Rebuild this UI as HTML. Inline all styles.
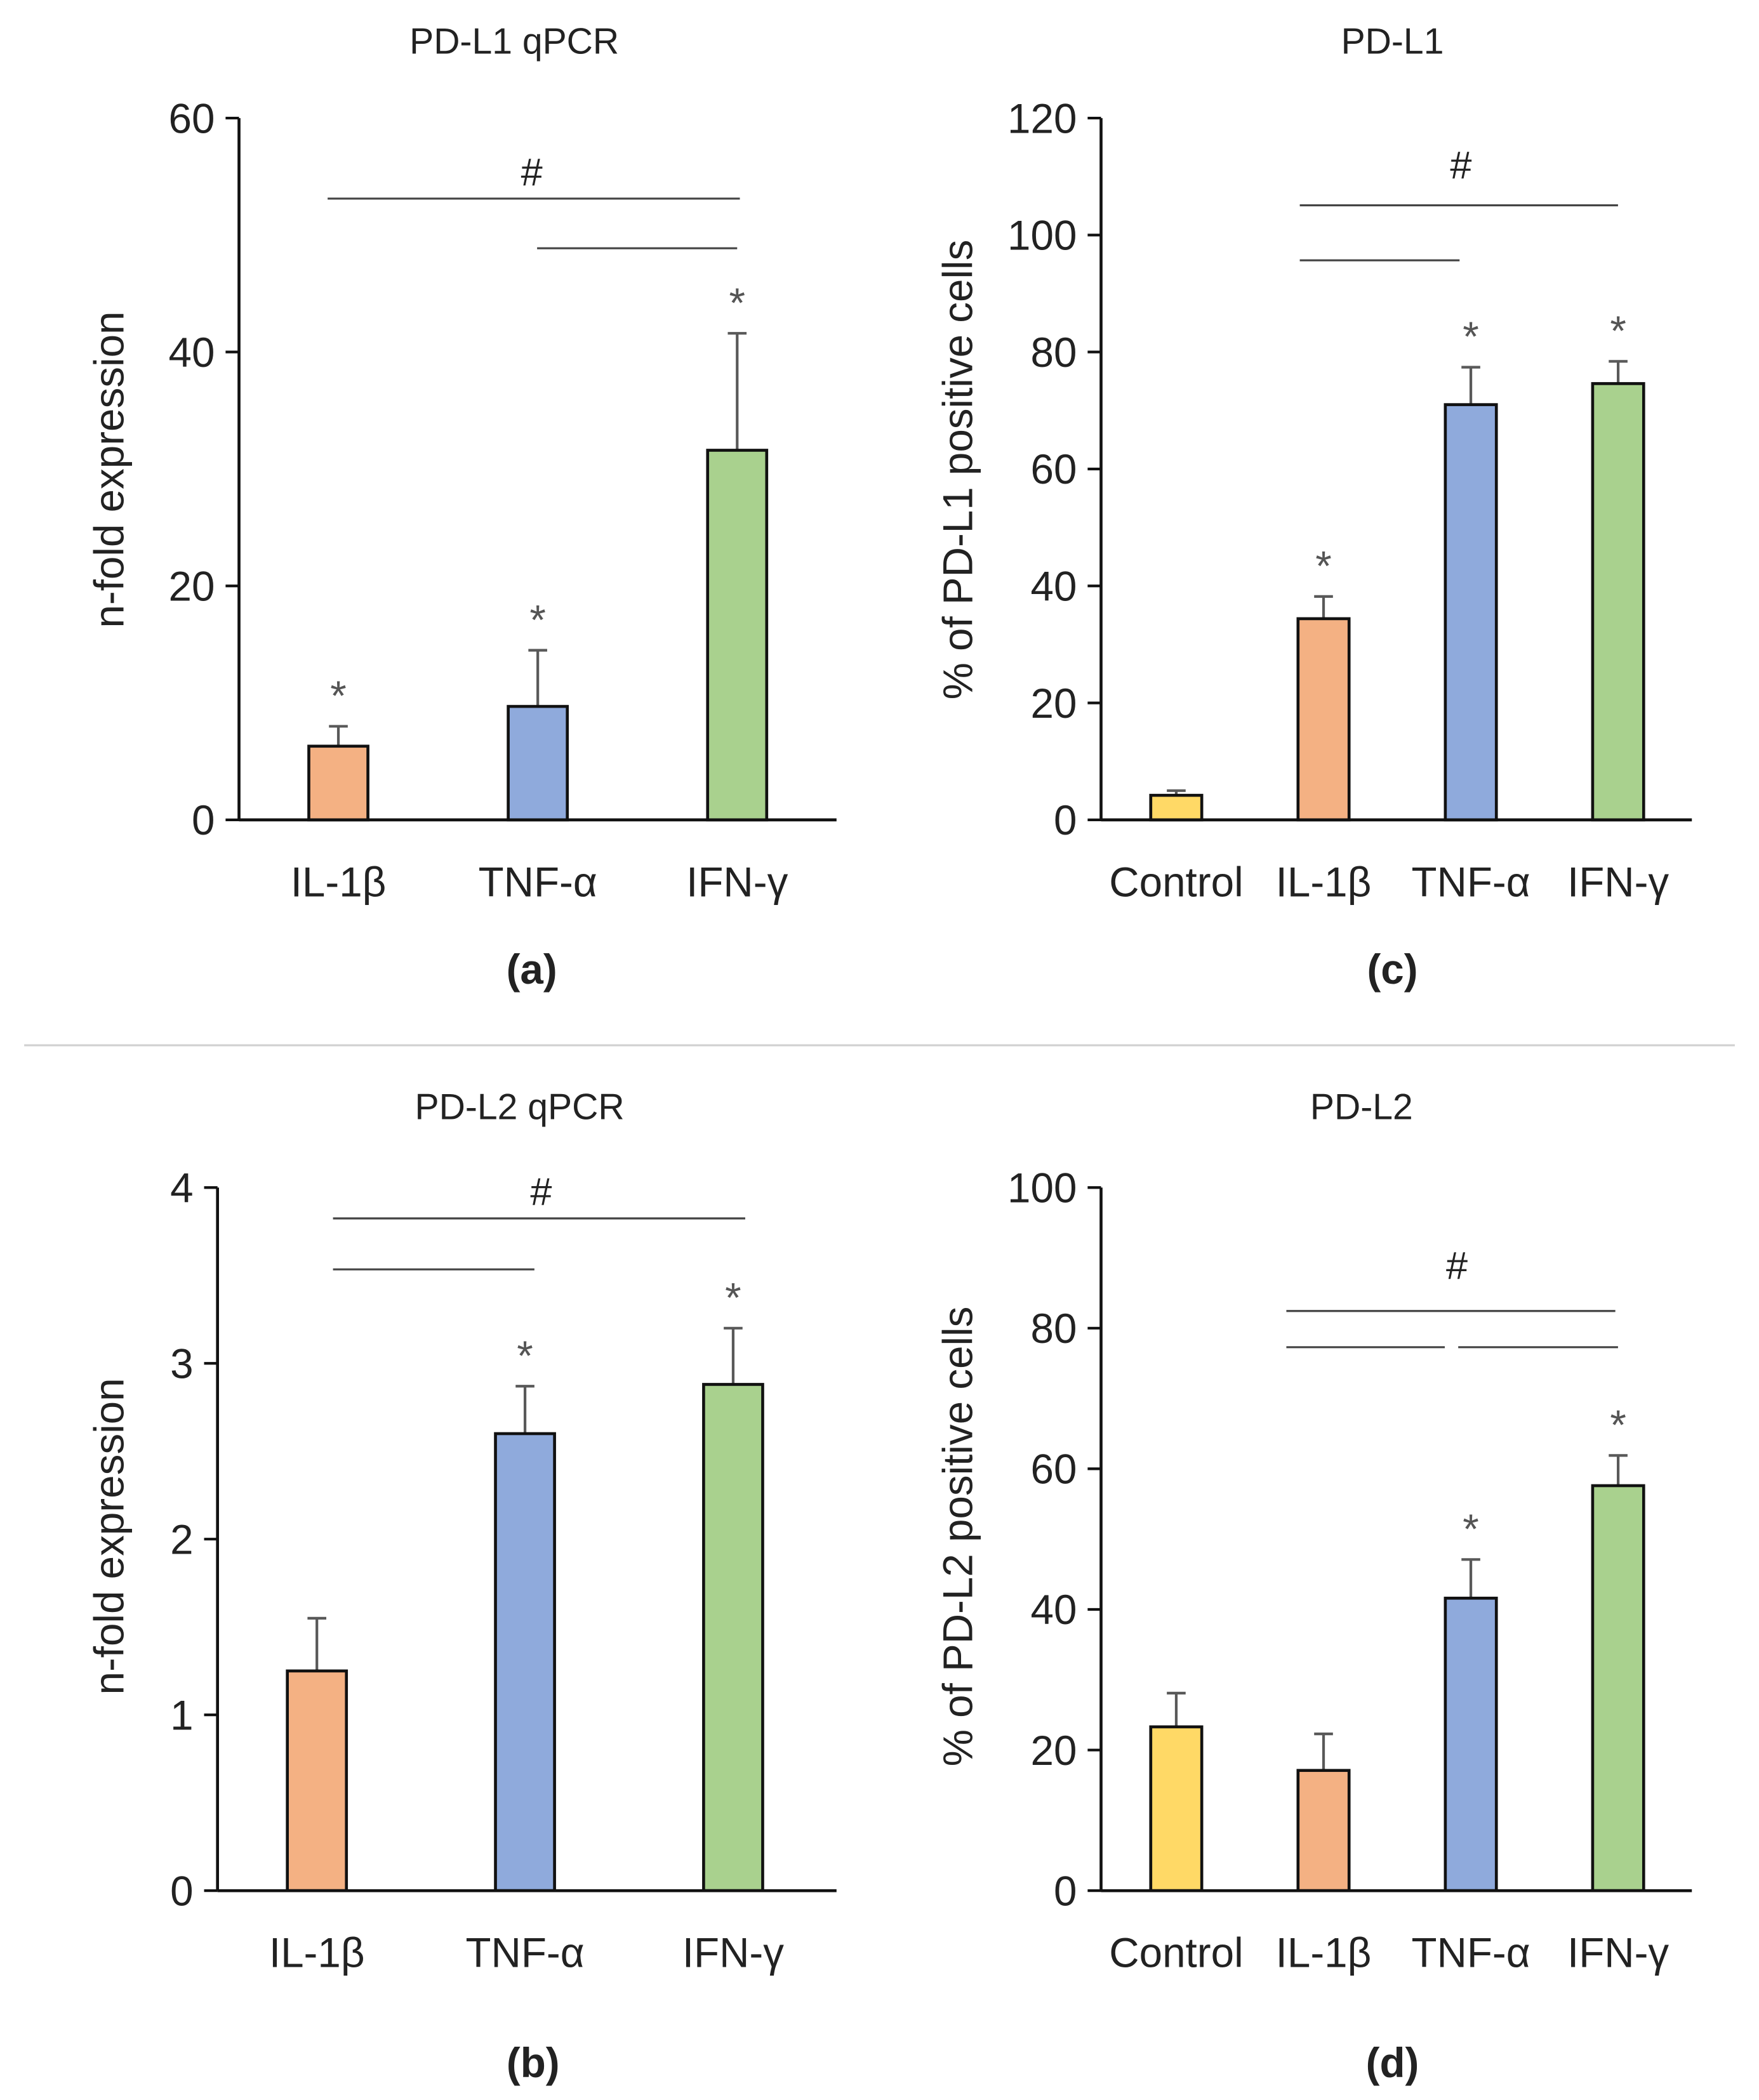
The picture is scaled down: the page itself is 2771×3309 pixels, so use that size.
<!DOCTYPE html>
<html><head><meta charset="utf-8"><style>
html,body{margin:0;padding:0;background:#fff;}
svg{display:block;font-family:"Liberation Sans",sans-serif;}
</style></head><body>
<svg id="fig" width="2771" height="3309" viewBox="0 0 1310 1565" preserveAspectRatio="none" xmlns="http://www.w3.org/2000/svg">
<rect width="1310" height="1565" fill="#fff"/>
<line x1="18" y1="779" x2="1292" y2="779" stroke="#d0d0d0" stroke-width="1.5"/>
</svg>
<script>
// Panel (a) PD-L1 qPCR
const aCategories = ["IL-1β","TNF-α","IFN-γ"];
const aValues = [6.3, 9.7, 31.6];
const aErrorTops = [8.0, 14.5, 41.6];
const aStars = [true, true, true];
const aTicks = [0, 20, 40, 60];
// Panel (c) PD-L1
const cCategories = ["Control","IL-1β","TNF-α","IFN-γ"];
const cValues = [4.2, 34.4, 71.0, 74.6];
const cErrorTops = [5.0, 38.2, 77.4, 78.4];
const cStars = [false, true, true, true];
const cTicks = [0, 20, 40, 60, 80, 100, 120];
// Panel (b) PD-L2 qPCR
const bCategories = ["IL-1β","TNF-α","IFN-γ"];
const bValues = [1.25, 2.6, 2.88];
const bErrorTops = [1.55, 2.87, 3.2];
const bStars = [false, true, true];
const bTicks = [0, 1, 2, 3, 4];
// Panel (d) PD-L2
const dCategories = ["Control","IL-1β","TNF-α","IFN-γ"];
const dValues = [23.3, 17.1, 41.6, 57.6];
const dErrorTops = [28.1, 22.3, 47.1, 61.9];
const dStars = [false, false, true, true];
const dTicks = [0, 20, 40, 60, 80, 100];

const NS = "http://www.w3.org/2000/svg";
const svg = document.getElementById('fig');
const catColor = {"Control":"#FFD966","IL-1β":"#F4B183","TNF-α":"#8FAADC","IFN-γ":"#A9D18E"};
function mk(tag, attrs, parent){const e=document.createElementNS(NS,tag);for(const k in attrs)e.setAttribute(k,attrs[k]);(parent||svg).appendChild(e);return e;}
function txt(parent,x,y,s,size,anchor,extra){const t=mk('text',Object.assign({x:x,y:y,'font-size':size,'text-anchor':anchor||'middle',fill:'#222'},extra||{}),parent);t.textContent=s;return t;}

function panel(cfg){
  const g=mk('g',{});
  
  
  const max=cfg.ticks[cfg.ticks.length-1];
  const ys=v=>cfg.y0-(v/max)*(cfg.y0-cfg.yTop);
  const xs=i=>cfg.xStart+i*cfg.step;
  const t=txt(g,cfg.titleX,cfg.titleY,cfg.title,27);
  
  
  cfg.ticks.forEach(v=>{
    const y=ys(v);
    const tl=mk('line',{x1:cfg.ax-10,y1:y,x2:cfg.ax,y2:y,stroke:'#111','stroke-width':2},g);
    
    
    const lab=txt(g,cfg.ax-18,y+11,String(v),31,'end');
    
    
  });
  const yl=txt(g,0,0,cfg.ylabel,31,'middle',{transform:`translate(${cfg.ylabX},${cfg.ylabY}) rotate(-90)`});
  
  
  cfg.cats.forEach((c,i)=>{
    const cx=xs(i), bw=cfg.bw;
    const top=ys(cfg.vals[i]), et=ys(cfg.err[i]);
    const el=mk('line',{x1:cx,y1:top,x2:cx,y2:et,stroke:'#595959','stroke-width':2},g);
    
    
    const cap=mk('line',{x1:cx-7,y1:et,x2:cx+7,y2:et,stroke:'#595959','stroke-width':2},g);
    
    
    const r=mk('rect',{x:cx-bw/2,y:top,width:bw,height:cfg.y0-top,fill:catColor[c],stroke:'#111','stroke-width':2.2},g);
    
    
    if(cfg.stars[i]){
      const s=txt(g,cx,et-12,'*',31,'middle',{fill:'#555'});
      
      
    }
    const xl=txt(g,cx,cfg.y0+57,c,31);
    
    
  });
  const ya=mk('line',{x1:cfg.ax,y1:cfg.yTop,x2:cfg.ax,y2:cfg.y0,stroke:'#111','stroke-width':2.2},g);
  
  
  const xa=mk('line',{x1:cfg.ax,y1:cfg.y0,x2:cfg.xEnd,y2:cfg.y0,stroke:'#111','stroke-width':2.2},g);
  
  
  cfg.sig.forEach(s=>{
    const l=mk('line',{x1:s[0],y1:s[2],x2:s[1],y2:s[2],stroke:'#444','stroke-width':1.5},g);
    
    
  });
  const h=txt(g,cfg.hashX,cfg.hashY,'#',29);
  
  
  const p=txt(g,cfg.labX,cfg.labY,cfg.lab,31,'middle',{'font-weight':'bold'});
  
  
}

panel({name:'chart-a-pdl1-qpcr',title:'PD-L1 qPCR',titleX:383,titleY:40,ax:178,xEnd:623,y0:611,yTop:88,ticks:aTicks,
  cats:aCategories,vals:aValues,err:aErrorTops,stars:aStars,xStart:252,step:148.5,bw:44,
  ylabel:'n-fold expression',ylabX:92,ylabY:350,sig:[[244,551,148],[400,549,185]],hashX:396,hashY:138,lab:'(a)',labX:396,labY:733});
panel({name:'chart-c-pdl1',title:'PD-L1',titleX:1037,titleY:40,ax:820,xEnd:1260,y0:611,yTop:88,ticks:cTicks,
  cats:cCategories,vals:cValues,err:cErrorTops,stars:cStars,xStart:876,step:109.7,bw:38,
  ylabel:'% of PD-L1 positive cells',ylabX:724,ylabY:350,sig:[[968,1205,153],[968,1087,194]],hashX:1088,hashY:133,lab:'(c)',labX:1037,labY:733});
panel({name:'chart-b-pdl2-qpcr',title:'PD-L2 qPCR',titleX:387,titleY:834,ax:162,xEnd:623,y0:1409,yTop:885,ticks:bTicks,
  cats:bCategories,vals:bValues,err:bErrorTops,stars:bStars,xStart:236,step:155,bw:44,
  ylabel:'n-fold expression',ylabX:92,ylabY:1145,sig:[[248,555,908],[248,398,946]],hashX:403,hashY:898,lab:'(b)',labX:397,labY:1548});
panel({name:'chart-d-pdl2',title:'PD-L2',titleX:1014,titleY:834,ax:820,xEnd:1260,y0:1409,yTop:885,ticks:dTicks,
  cats:dCategories,vals:dValues,err:dErrorTops,stars:dStars,xStart:876,step:109.7,bw:38,
  ylabel:'% of PD-L2 positive cells',ylabX:724,ylabY:1145,sig:[[958,1203,977],[958,1076,1004],[1086,1205,1004]],hashX:1085,hashY:953,lab:'(d)',labX:1037,labY:1548});
</script>
</body></html>
